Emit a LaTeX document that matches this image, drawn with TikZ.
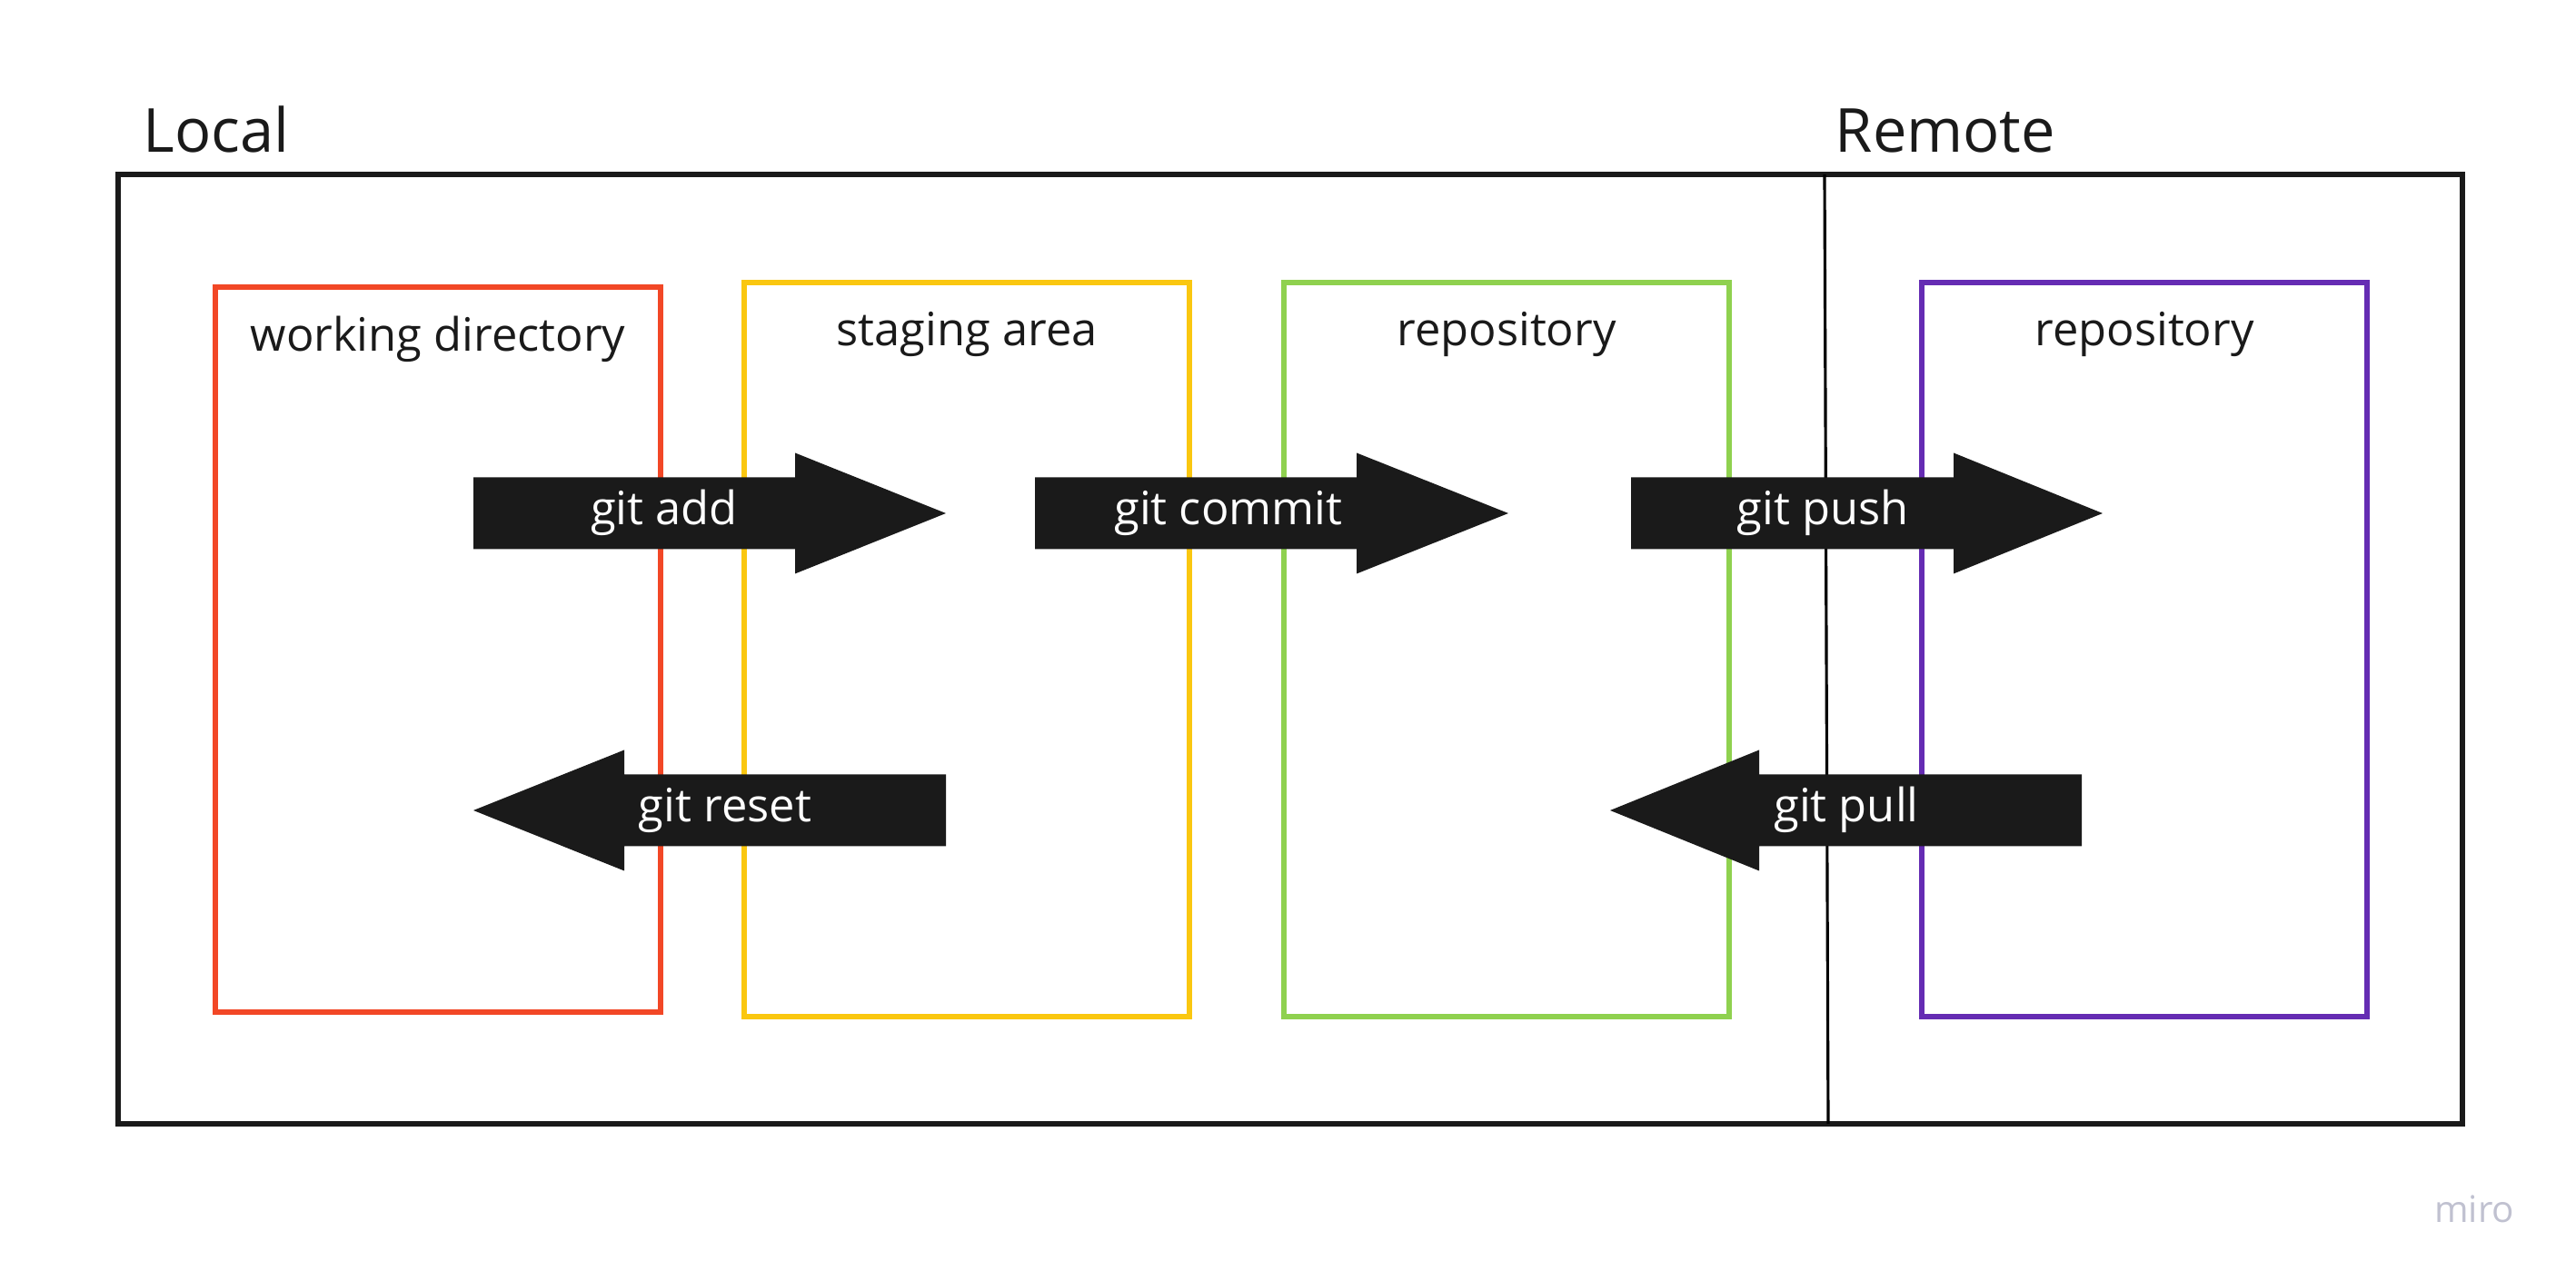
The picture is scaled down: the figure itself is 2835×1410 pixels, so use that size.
\documentclass[tikz,border=0pt]{standalone}
\usepackage{fontspec}
\setmainfont{Open Sans}

\definecolor{framegray}{HTML}{1A1A1A}
\definecolor{wdred}{HTML}{F24726}
\definecolor{stageyellow}{HTML}{FAC710}
\definecolor{repogreen}{HTML}{8FD14F}
\definecolor{repopurple}{HTML}{652CB3}
\definecolor{mirogray}{HTML}{C0C1D0}

\tikzset{
  frame/.style={draw=framegray, line width=1.8pt},
  divider/.style={draw=black, line width=0.9pt},
  stagebox/.style={line width=1.6pt, minimum width=4.9cm, minimum height=8.08cm, inner sep=0pt},
  sidetitle/.style={anchor=base west, inner sep=0pt, text=framegray, font=\fontsize{19}{23}\selectfont},
  boxtitle/.style={anchor=base, inner sep=0pt, text=framegray, font=\fontsize{14.4}{17}\selectfont},
  cmdarrow/.style={fill=framegray},
  cmdlabel/.style={anchor=base, inner sep=0pt, text=white, font=\fontsize{14.4}{17}\selectfont}
}

\begin{document}
\begin{tikzpicture}[x=0.01cm, y=-0.01cm]
    \useasboundingbox (0,0) rectangle (2835,1410);

    % Coordinates
    \coordinate (TL) at (130,192);
    \coordinate (BR) at (2710,1237);
    \coordinate (DT) at (2008,192);
    \coordinate (DB) at (2012,1237);

    % Draw outer frame and local/remote divider
    \draw[frame] (TL) rectangle (BR);
    \draw[divider] (DT) -- (DB);

    % Draw side titles
    \node[sidetitle] (local) at (157,168) {Local};
    \node[sidetitle] (remote) at (2019,168) {Remote};

    % Draw stage boxes
    \node[stagebox, draw=wdred, minimum height=7.98cm] (wd) at (482,715) {};
    \node[stagebox, draw=stageyellow] (stage) at (1064,715) {};
    \node[stagebox, draw=repogreen] (localrepo) at (1658,715) {};
    \node[stagebox, draw=repopurple] (remoterepo) at (2360,715) {};

    % Draw box titles
    \node[boxtitle] (wdtitle) at (482,387) {working directory};
    \node[boxtitle] (stagetitle) at (1064,381) {staging area};
    \node[boxtitle] (localrepotitle) at (1658,381) {repository};
    \node[boxtitle] (remoterepotitle) at (2360,381) {repository};

    % Draw command arrows: shaft end / head base / tip / centre line
    \foreach \xa/\xb/\xt/\yc/\xl/\cmd/\txt in {
        521/875/1041/565/731/add/git add,
        1139/1493/1660/565/1352/commit/git commit,
        1795/2150/2314/565/2006/push/git push,
        1041/687/521/892/798/reset/git reset,
        2291/1936/1772/892/2032/pull/git pull}{
      \fill[cmdarrow] (\xa,\yc-39.5) -- (\xb,\yc-39.5) -- (\xb,\yc-66.5) -- (\xt,\yc)
        -- (\xb,\yc+66.5) -- (\xb,\yc+39.5) -- (\xa,\yc+39.5) -- cycle;
      \node[cmdlabel] (\cmd) at (\xl,\yc+13) {\txt};
    }

    % Draw watermark
    \node[anchor=base east, inner sep=0pt, text=mirogray, font=\fontsize{11.5}{14}\selectfont] (miro) at (2768,1346) {miro};
\end{tikzpicture}
\end{document}
